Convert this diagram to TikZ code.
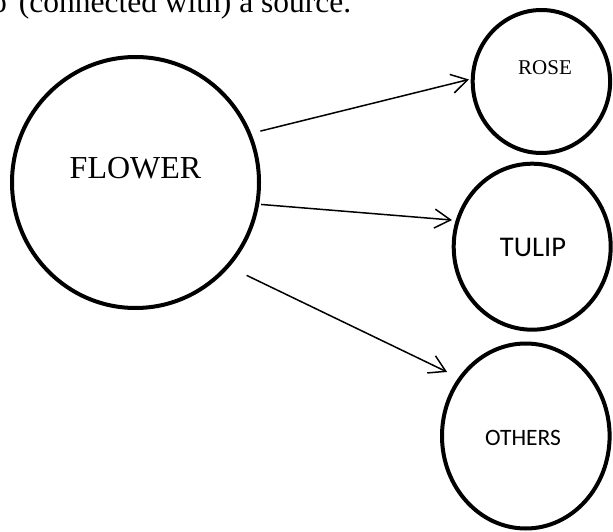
\documentclass[tikz,border=0pt]{standalone}
\usepackage{fontspec}
\setmainfont{Liberation Serif}
\newfontfamily\calibri{Carlito}
\usetikzlibrary{shapes.geometric,arrows.meta}
\begin{document}
\begin{tikzpicture}[x=1pt, y=1pt,
		bubble/.style={ellipse, draw, line width=4pt, inner sep=0pt},
		link/.style={line width=1.5pt, -{Straight Barb[length=16pt, width=19pt]}}
		]
	\useasboundingbox (0,0) rectangle (613,531);
	\node [anchor=base west, inner sep=0pt, font=\fontsize{31.5}{38}\selectfont] (caption) at (-9,518.5) {o\hspace{12pt}(connected with) a source.};
	\node [bubble, minimum width=247pt, minimum height=251pt, label={[font=\fontsize{32}{38}\selectfont, yshift=14.5pt]center:FLOWER}] (flower) at (135.5,348.5) {};
	\node [bubble, minimum width=137.4pt, minimum height=143pt, label={[font=\fontsize{21}{25}\selectfont, xshift=3.6pt, yshift=13.5pt]center:ROSE}] (rose) at (541.4,449.5) {};
	\node [bubble, minimum width=157pt, minimum height=166pt, label={[font=\calibri\fontsize{28.5}{34}\selectfont, xshift=0.8pt, yshift=-0.8pt]center:TULIP}] (tulip) at (532.2,284.3) {};
	\node [bubble, minimum width=167.6pt, minimum height=185pt, label={[font=\calibri\fontsize{23.5}{28}\selectfont, xshift=-2.8pt, yshift=-1.5pt]center:OTHERS}] (others) at (525.8,95) {};
	\draw [link, shorten <=9.4pt, shorten >=1.8pt] (flower.23) -- (rose.178);
	\draw [link, shorten <=1.9pt, shorten >=3.7pt] (flower.-10) -- (tulip.161);
	\draw [link, shorten <=19.1pt, shorten >=12.6pt] (flower.-42) -- (others.139);
\end{tikzpicture}
\end{document}
